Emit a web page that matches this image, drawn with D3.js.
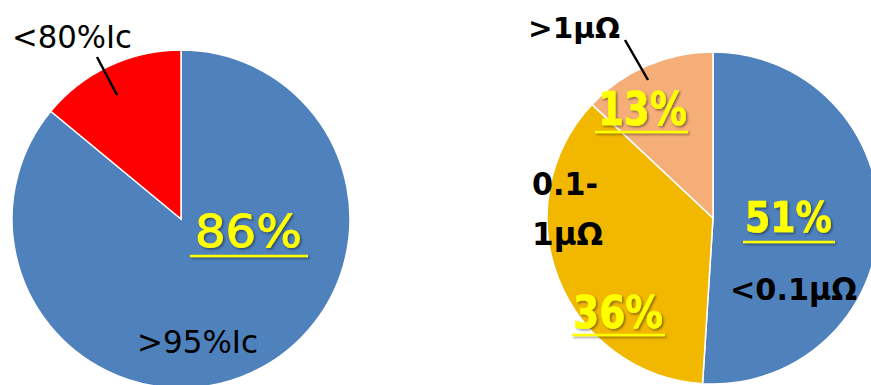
<!DOCTYPE html>
<html>
<head>
<meta charset="utf-8">
<script src="https://cdn.jsdelivr.net/npm/d3@7"></script>
<style>
  html, body { margin: 0; padding: 0; background: #fff; }
  svg { display: block; }
</style>
</head>
<body>
<svg id="chart" width="871" height="385"></svg>
<script>
// ---- data ----
const leftCategories = [">95%Ic", "<80%Ic"];
const leftValues = [86, 14];
const leftColors = ["#4F81BD", "#FF0000"];

const rightCategories = ["<0.1μΩ", "0.1-1μΩ", ">1μΩ"];
const rightValues = [51, 36, 13];
const rightColors = ["#4F81BD", "#F2B800", "#F5AE78"];

const svg = d3.select("#chart");
const defs = svg.append("defs");
const f = defs.append("filter").attr("id", "shadow")
  .attr("x", "-10%").attr("y", "-10%").attr("width", "130%").attr("height", "140%");
f.append("feDropShadow").attr("dx", 1.5).attr("dy", 1.5)
  .attr("stdDeviation", 0.8).attr("flood-color", "#000").attr("flood-opacity", 0.45);

function drawPie(cx, cy, r, values, colors) {
  const pie = d3.pie().sort(null).value(d => d)(values);
  const arc = d3.arc().innerRadius(0).outerRadius(r);
  const g = svg.append("g").attr("transform", `translate(${cx},${cy})`);
  g.selectAll("path").data(pie).join("path")
    .attr("d", arc)
    .attr("fill", (d, i) => colors[i])
    .attr("stroke", "#fff")
    .attr("stroke-width", 1.5);
  return g;
}

drawPie(181, 219, 169, leftValues, leftColors);
drawPie(713, 218, 166, rightValues, rightColors);

const FONT = "DejaVu Sans";

function blackText(text, x, y, size, weight, len) {
  const t = svg.append("text")
    .attr("x", x).attr("y", y)
    .attr("font-family", FONT)
    .attr("font-size", size)
    .attr("font-weight", weight)
    .attr("fill", "#000")
    .text(text);
  if (len) t.attr("textLength", len).attr("lengthAdjust", "spacingAndGlyphs");
  return t;
}

function pctLabel(value, x, y, size, weight, len, ux0, ux1, uy, thick) {
  const g = svg.append("g").attr("filter", "url(#shadow)");
  g.append("text")
    .attr("x", x).attr("y", y)
    .attr("font-family", FONT)
    .attr("font-size", size)
    .attr("font-weight", weight)
    .attr("fill", "#FFFF00")
    .attr("stroke", "#FFFF00")
    .attr("stroke-width", thick)
    .attr("stroke-linejoin", "round")
    .attr("textLength", len)
    .attr("lengthAdjust", "spacingAndGlyphs")
    .text(value + "%");
  g.append("line")
    .attr("x1", ux0).attr("x2", ux1).attr("y1", uy).attr("y2", uy)
    .attr("stroke", "#FFFF00").attr("stroke-width", 2.4);
}

// ---- left pie labels ----
pctLabel(leftValues[0], 195, 247, 45, "normal", 107, 190, 308, 256, 0.9);
blackText(leftCategories[1], 12, 48, 32, "normal", 120);
blackText(leftCategories[0], 137, 353, 32, "normal", 121);
svg.append("line").attr("x1", 97).attr("y1", 57).attr("x2", 117).attr("y2", 95)
  .attr("stroke", "#000").attr("stroke-width", 2.5);

// ---- right pie labels ----
blackText(rightCategories[2], 528, 38, 29, "bold", 92);
svg.append("line").attr("x1", 625).attr("y1", 40).attr("x2", 648).attr("y2", 80)
  .attr("stroke", "#000").attr("stroke-width", 2.5);
pctLabel(rightValues[2], 598, 125, 46, "bold", 89, 595, 688, 132, 0.6);

blackText("0.1-", 532, 195, 32, "bold", 66);
blackText("1μΩ", 532, 245, 32, "bold", 71);
pctLabel(rightValues[1], 573, 328, 44, "bold", 90, 572, 665, 335, 0.6);

pctLabel(rightValues[0], 745, 232, 42, "bold", 87, 743, 835, 242, 0.6);
blackText(rightCategories[0], 730, 300, 31, "bold", 127);
</script>
</body>
</html>
